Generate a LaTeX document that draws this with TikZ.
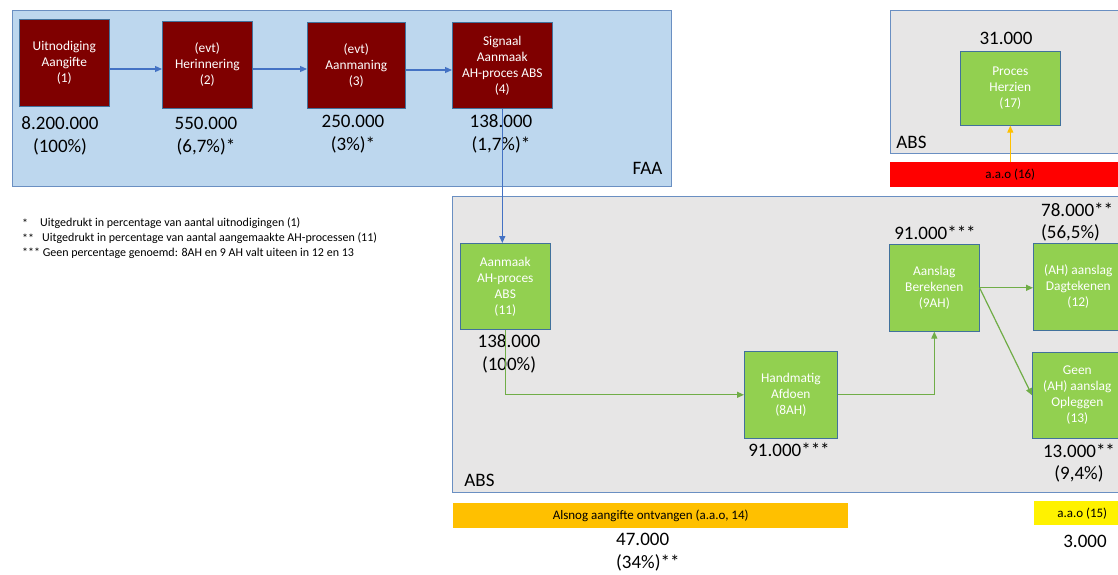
\documentclass[tikz,border=0pt]{standalone}
\usepackage{fontspec}
\setmainfont{Carlito}
\usetikzlibrary{arrows.meta}

\definecolor{boxred}{HTML}{7F0000}
\definecolor{boxgreen}{HTML}{92D050}
\definecolor{boxline}{HTML}{41719C}
\definecolor{arealine}{HTML}{6A8FC2}
\definecolor{faafill}{HTML}{BDD7EE}
\definecolor{absfill}{HTML}{E7E6E6}
\definecolor{blueline}{HTML}{4472C4}
\definecolor{greenline}{HTML}{70AD47}
\definecolor{aaoorange}{HTML}{FFC000}

\begin{document}
\begin{tikzpicture}[x=1pt, y=-1pt,
  box/.style={draw=boxline, line width=0.6pt, anchor=north west, inner sep=0pt,
    align=center, text=white, font=\fontsize{13.4}{16}\selectfont},
  redbox/.style={box, fill=boxred, minimum height=87pt},
  greenbox/.style={box, fill=boxgreen, minimum height=87pt},
  count/.style={font=\fontsize{19}{22.5}\selectfont, align=center, inner sep=0pt},
  area/.style={draw=arealine, line width=0.8pt},
  bar/.style={anchor=north west, inner sep=0pt, minimum height=25pt,
    font=\fontsize{13}{15}\selectfont},
  note/.style={anchor=west, inner sep=0pt, font=\fontsize{12}{15}\selectfont},
  flow/.style={-{Triangle[length=7pt,width=6pt]}, line width=1.2pt},
]

  \clip (0,0) rectangle (1118,574);

  \newcommand\YFLOW{69}

  % areas
  \draw[area, fill=faafill] (12,10) rectangle (671,186);
  \draw[area, fill=absfill] (452,196) rectangle (1130,492);
  \draw[area, fill=absfill] (890,10) rectangle (1130,153);

  \node[count] (faa) at (647.5,168) {FAA};
  \node[count] (abs) at (479.5,480) {ABS};
  \node[count] (abstop) at (911.5,142) {ABS};

  % FAA steps
  \node[redbox, minimum width=90pt] (box1) at (19,19) {Uitnodiging\\Aangifte\\(1)};
  \node[redbox, minimum width=90pt] (box2) at (162,21) {(evt)\\Herinnering\\(2)};
  \node[redbox, minimum width=98pt, minimum height=86pt] (box3) at (307,22) {(evt)\\Aanmaning\\(3)};
  \node[redbox, minimum width=100pt, minimum height=86pt] (box4) at (452,22) {Signaal\\Aanmaak\\AH-proces ABS\\(4)};

  \node[count] (n1) at (60,136) {8.200.000\\(100\%)};
  \node[count] (n2) at (206,136) {550.000\\(6,7\%)*};
  \node[count] (n3) at (353,134) {250.000\\(3\%)*};
  \node[count] (n4) at (501,134) {138.000\\(1,7\%)*};

  % ABS steps
  \node[greenbox, minimum width=90pt, minimum height=86pt] (box11) at (460,243) {Aanmaak\\AH-proces\\ABS\\(11)};
  \node[greenbox, minimum width=93pt] (box8) at (744,351) {Handmatig\\Afdoen\\(8AH)};
  \node[greenbox, minimum width=90pt] (box9) at (889,244) {Aanslag\\Berekenen\\(9AH)};
  \node[greenbox, minimum width=90pt] (box12) at (1033,243) {(AH) aanslag\\Dagtekenen\\(12)};
  \node[greenbox, minimum width=90pt, minimum height=86pt] (box13) at (1032,352) {Geen\\(AH) aanslag\\Opleggen\\(13)};
  \node[greenbox, minimum width=100pt, minimum height=74pt] (box17) at (960,51) {Proces\\Herzien\\(17)};

  \node[count] (n11) at (509,354) {138.000\\(100\%)};
  \node[count] (n8) at (789,450) {91.000***};
  \node[count] (n9) at (935,233) {91.000***};
  \node[count, align=left, anchor=west] (n12) at (1041,222) {78.000**\\(56,5\%)};
  \node[count] (n13) at (1079,463) {13.000**\\(9,4\%)};
  \node[count] (n17) at (1006,38) {31.000};

  % a.a.o
  \node[bar, fill=aaoorange, minimum width=395pt] (bar14) at (453,503) {Alsnog aangifte ontvangen (a.a.o, 14)};
  \node[bar, fill=yellow, minimum width=96pt, minimum height=24pt] (bar15) at (1034,501) {a.a.o (15)};
  \node[bar, fill=red, minimum width=240pt] (bar16) at (890,162) {a.a.o (16)};

  \node[count, align=left, anchor=west] (n14) at (616,552) {47.000\\(34\%)**};
  \node[count] (n15) at (1085,541) {3.000};

  % notes
  \node[note] (star1) at (22,223) {*};
  \node[note] (foot1) at (40,223) {Uitgedrukt in percentage van aantal uitnodigingen (1)};
  \node[note] (star2) at (22,238) {**};
  \node[note] (foot2) at (42,238) {Uitgedrukt in percentage van aantal aangemaakte AH-processen (11)};
  \node[note] (foot3) at (22,253) {*** Geen percentage genoemd: 8AH en 9 AH valt uiteen in 12 en 13};

  % flows
  \draw[flow, blueline] (box1.east |- 0,\YFLOW) -- (box2.west |- 0,\YFLOW);
  \draw[flow, blueline] (box2.east |- 0,\YFLOW) -- (box3.west |- 0,\YFLOW);
  \draw[flow, blueline] (box3.east |- 0,70) -- (box4.west |- 0,70);
  \draw[flow, blueline] (box4.south) -- (box4.south |- box11.north);

  \draw[flow, greenline] (box11.south) |- (box8.west);
  \draw[flow, greenline] (box8.east) -| (box9.south);
  \draw[flow, greenline] (box9.east) -- (box9.east -| box12.west);
  \draw[flow, greenline] (box9.east) -- (box13.west);

  \draw[flow, aaoorange] (bar16.north -| box17.south) -- (box17.south);

\end{tikzpicture}
\end{document}
